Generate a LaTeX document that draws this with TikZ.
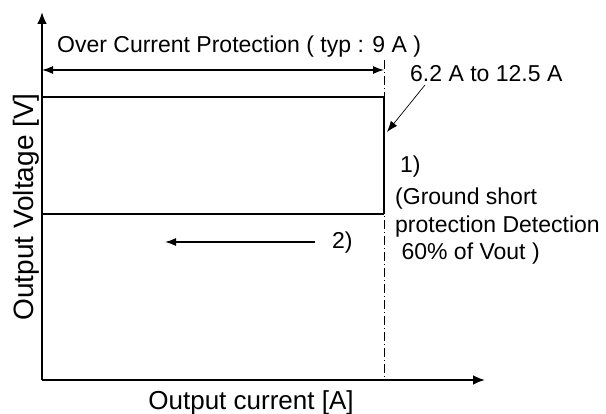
\documentclass[tikz,border=0pt]{standalone}
\usepackage{fontspec}
\setmainfont{Liberation Sans}
\usetikzlibrary{arrows.meta}

\begin{document}
\begin{tikzpicture}[x=1pt, y=1pt,
    axis/.style={line width=2.8pt, -{Latex[length=12pt, width=10pt]}},
    limit/.style={line width=2.6pt},
    thin arrow/.style={line width=1.3pt, -{Latex[length=11pt, width=8pt]}},
    note/.style={inner sep=0pt, anchor=base west, font=\fontsize{23}{27.6}\selectfont},
    label/.style={inner sep=0pt, font=\fontsize{26}{31}\selectfont}]

    % Frame of the picture
    \useasboundingbox (0,0) rectangle (606,414);

    \def\xo{42}      % origin, x
    \def\yo{34}      % origin, y
    \def\xl{384}     % current limit
    \def\vt{317}     % output voltage
    \def\vg{200}     % ground short level

    \coordinate (O)    at (\xo, \yo);
    \coordinate (Ytop) at (\xo, 402);
    \coordinate (Xend) at (485, \yo);
    \coordinate (A)    at (\xo, \vt);
    \coordinate (B)    at (\xl, \vt);
    \coordinate (C)    at (\xl, \vg);
    \coordinate (D)    at (\xo, \vg);
    \coordinate (L1)   at (\xl, 354);
    \coordinate (L2)   at (\xl, \yo);
    \coordinate (P1)   at (\xo, 344);
    \coordinate (P2)   at (\xl, 344);
    \coordinate (E)    at (387, 282);
    \coordinate (F1)   at (315, 172);
    \coordinate (F2)   at (165, 172);

    % Limit line
    \draw[line width=0.9pt, dash pattern=on 9pt off 3pt on 1pt off 3pt] (L1) -- (L2);

    % Characteristic
    \draw[limit] (A) -- (B) -- (C);
    \draw[line width=2.4pt] (D) -- (C);

    % Axes
    \draw[axis] (O) -- (Ytop);
    \draw[axis] (O) -- (Xend);

    % Over current range
    \draw[thin arrow, {Latex[length=11pt, width=8pt]}-{Latex[length=11pt, width=8pt]}] (P1) -- (P2);
    \node[note] (ocp) at (57, 361) {Over Current Protection ( typ : 9 A )};

    \node[note] (range) at (410, 332) {6.2 A to 12.5 A};
    \draw[line width=0.7pt, -{Latex[length=11pt, width=8pt]}] (range.base west) ++(15,-3) coordinate (R) -- (E);

    % 1) and 2)
    \node[note] (one) at (400, 241) {1)};
    \node[note, align=left] (gnd) at (395, 154) {(Ground short\\protection Detection\\\ 60\% of Vout )};
    \draw[thin arrow] (F1) -- (F2);
    \node[note] (two) at (332, 165) {2)};

    % Axis labels
    \node[label, anchor=base] (xlab) at (251, 4) {Output current [A]};
    \node[label, anchor=base, rotate=90, font=\fontsize{28}{33}\selectfont] (ylab) at (33, 207) {Output Voltage [V]};

\end{tikzpicture}
\end{document}
